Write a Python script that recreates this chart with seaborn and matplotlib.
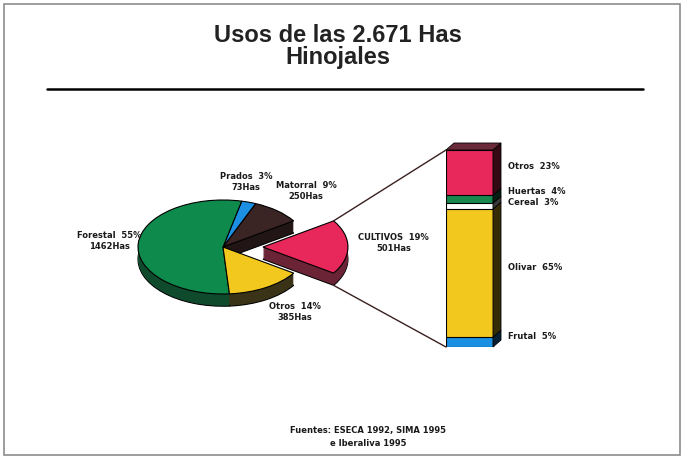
import numpy as np
import matplotlib
matplotlib.use("Agg")
import matplotlib.pyplot as plt
from matplotlib.patches import ConnectionPatch, Polygon, Rectangle
from matplotlib.lines import Line2D
from matplotlib.colors import to_rgb
import seaborn as sns

# datos: usos del suelo (hectareas) del pie
usos = ["CULTIVOS", "Matorral", "Prados", "Forestal", "Otros"]
hectareas = [501, 250, 73, 1462, 385]
porcentajes = [19, 9, 3, 55, 14]
colores_pie = ["#e8285a", "#3a2424", "#1c8fe3", "#0e8a4c", "#f3c81e"]
colores_lado = ["#6a2436", "#221515", "#0d4f80", "#0f4a2c", "#3a3318"]

# desglose de cultivos (barra apilada, de abajo hacia arriba)
cultivos = ["Frutal", "Olivar", "Cereal", "Huertas", "Otros"]
cultivos_pct = [5, 65, 3, 4, 23]
colores_bar = ["#1c8fe3", "#f3c81e", "#ffffff", "#17884e", "#e8285a"]

titulo = "Usos de las 2.671 Has\nHinojales"
fuente = "Fuentes: ESECA 1992, SIMA 1995\ne Iberaliva 1995"

sns.set_theme(style="white")
plt.rcParams['font.family'] = ['DejaVu Sans']

W, H = 683, 458
fig = plt.figure(figsize=(W / 100, H / 100), dpi=100)
fig.patch.set_facecolor("white")


def rect_px(x0, y0, x1, y1):
    # caja en pixeles de la imagen (y hacia abajo) -> fraccion de figura
    return [x0 / W, 1 - y1 / H, (x1 - x0) / W, (y1 - y0) / H]


# ---- pie 3D (elipse aplastada) ----
cx, cy, rx, ry = 223, 247, 85, 47
xl, yl = (-1.2, 1.8), (-1.5, 1.2)
ax = fig.add_axes(rect_px(cx + xl[0] * rx, cy - yl[1] * ry, cx + xl[1] * rx, cy - yl[0] * ry))

total = sum(hectareas)
ang_cult = 360 * hectareas[0] / total
start = -ang_cult / 2
explode = [0.47, 0, 0, 0, 0]
depth = 0.26
n = 16

# lado (grosor) - capa de abajo con borde negro
ax.pie(hectareas, colors=colores_lado, startangle=start, explode=explode,
       center=(0, -depth), wedgeprops=dict(edgecolor="black", linewidth=0.8))
for k in range(n - 1, 0, -1):
    ax.pie(hectareas, colors=colores_lado, startangle=start, explode=explode,
           center=(0, -depth * k / n), wedgeprops=dict(linewidth=0))
# cara superior
ax.pie(hectareas, colors=colores_pie, startangle=start, explode=explode,
       center=(0, 0), wedgeprops=dict(edgecolor="black", linewidth=0.8))
ax.set_aspect("auto")
ax.set_xlim(*xl)
ax.set_ylim(*yl)
ax.axis("off")

# etiquetas del pie
pos_etiquetas = [(2.01, 0.09), (0.98, 1.19), (0.27, 1.38), (-1.34, 0.13), (0.85, -1.38)]
for nombre, pct, has, (tx, ty) in zip(usos, porcentajes, hectareas, pos_etiquetas):
    ax.text(tx, ty, f"{nombre}  {pct}%\n{has}Has", ha="center", va="center",
            fontsize=6, fontweight="bold", color="#1a1a1a", linespacing=1.3)

# ---- barra apilada de cultivos ----
bx0, bx1, bbot, btop = 446, 493, 347, 150
ppu_x = bx1 - bx0
ppu_y = (bbot - btop) / 100
xlb, ylb = (-0.5, 0.8), (0, 105)
axb = fig.add_axes(rect_px(bx0, bbot - ylb[1] * ppu_y, bx0 + (xlb[1] - xlb[0]) * ppu_x, bbot))

cum = np.cumsum(cultivos_pct)
for i in reversed(range(len(cultivos))):
    sns.barplot(x=[0], y=[cum[i]], color=colores_bar[i], width=1, saturation=1,
                edgecolor="black", linewidth=0.8, errorbar=None, ax=axb)

dx, dy = 8 / ppu_x, 7 / ppu_y
bottoms = np.concatenate([[0], cum[:-1]])
for b, t, c in zip(bottoms, cum, colores_bar):
    lado = tuple(v * 0.22 for v in to_rgb(c))
    axb.add_patch(Polygon([(0.5, b), (0.5 + dx, b + dy), (0.5 + dx, t + dy), (0.5, t)],
                          closed=True, facecolor=lado, edgecolor="black", linewidth=0.6,
                          clip_on=False))
axb.add_patch(Polygon([(-0.5, cum[-1]), (-0.5 + dx, cum[-1] + dy), (0.5 + dx, cum[-1] + dy),
                       (0.5, cum[-1])], closed=True, facecolor="#6b2a3a",
                      edgecolor="black", linewidth=0.6, clip_on=False))
axb.set_xlim(*xlb)
axb.set_ylim(*ylb)
axb.axis("off")

for nombre, pct, b, t in zip(cultivos, cultivos_pct, bottoms, cum):
    ymid = (b + t) / 2 + 3
    if nombre == "Huertas":
        ymid += 1
    if nombre == "Cereal":
        ymid -= 1
    axb.text(0.82, ymid, f"{nombre}  {pct}%", ha="left", va="center",
             fontsize=6, fontweight="bold", color="#1a1a1a")

# lineas de conexion
a1 = np.deg2rad(start + ang_cult)
a0 = np.deg2rad(start)
for (px, py), (qx, qy) in [((0.47 + np.cos(a1), np.sin(a1)), (-0.5, cum[-1])),
                           ((0.47 + np.cos(a0), np.sin(a0) - depth), (-0.5, 0))]:
    fig.add_artist(ConnectionPatch((px, py), (qx, qy), coordsA=ax.transData,
                                   coordsB=axb.transData, color="#3a2020", linewidth=1.0))

# titulo, regla y fuente
fig.text(338 / W, 1 - 24 / H, titulo, ha="center", va="top", fontsize=17,
         fontweight="bold", family="Liberation Sans", color="#222222", linespacing=0.95)
fig.add_artist(Line2D([47 / W, 643 / W], [1 - 89 / H, 1 - 89 / H], color="black", linewidth=1.8))
fig.text(368 / W, 1 - 437 / H, fuente, ha="center", va="center", fontsize=6,
         fontweight="bold", color="#1a1a1a", linespacing=1.5)
fig.add_artist(Rectangle((4 / W, 1 - 455 / H), 676 / W, 451 / H, transform=fig.transFigure,
                         fill=False, edgecolor="#8c8c8c", linewidth=1.2))

fig.savefig("out.png", dpi=100)
